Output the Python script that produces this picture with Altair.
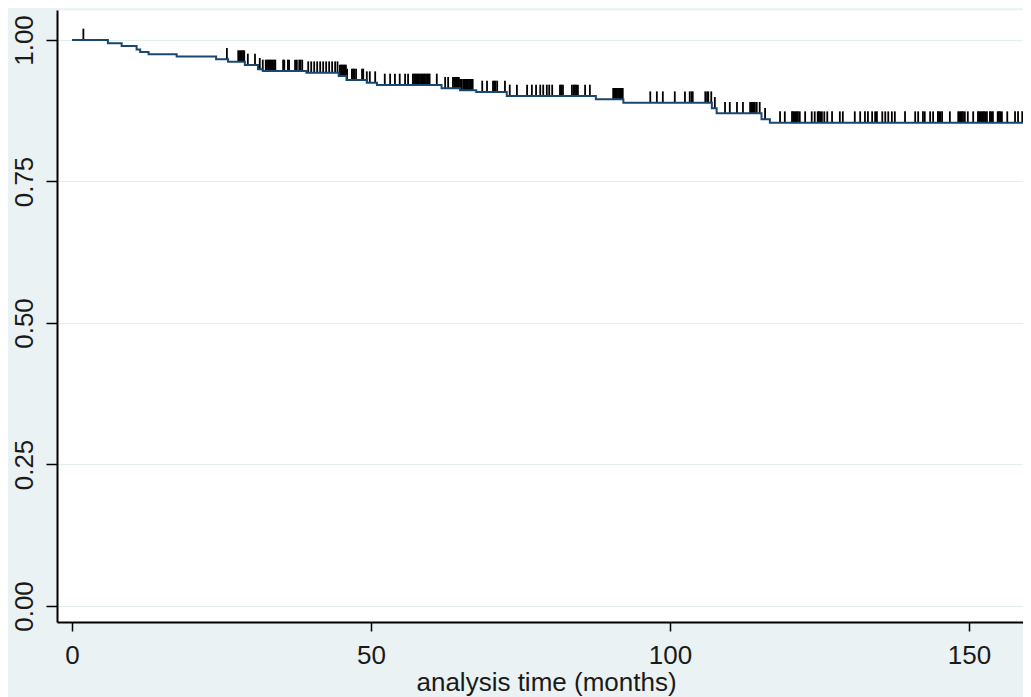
import bisect
import altair as alt
import pandas as pd

# Kaplan-Meier estimate: times (months) where the curve steps, survival after the step
step_time = [0, 6.0, 8.3, 10.8, 11.4, 12.8, 17.5, 24.1, 26.1, 28.9, 31.1, 31.9, 39.2,
             44.6, 45.9, 49.3, 51.0, 61.8, 64.9, 67.6, 72.7, 87.6, 92.2, 107.0, 107.8,
             115.3, 116.7, 159.0]
step_surv = [1.0, 0.9942, 0.9894, 0.9832, 0.9788, 0.9747, 0.9708, 0.9659, 0.9617,
             0.9558, 0.9482, 0.9452, 0.9422, 0.9364, 0.9293, 0.9246, 0.9205, 0.9147,
             0.9111, 0.9081, 0.9011, 0.8952, 0.8892, 0.8793, 0.8705, 0.8599, 0.8539,
             0.8539]

# Censoring times (months)
censor_time = [
    1.9, 25.9, 27.8, 28.0, 28.2, 28.4, 28.6, 28.8, 29.4, 30.6, 31.4, 31.9,
    32.4, 32.6, 32.8, 33.0, 33.2, 33.4, 33.6, 33.8, 34.0, 35.3, 35.5, 36.1, 36.3,
    37.3, 37.6, 38.0, 38.2, 38.5,
    39.5, 40.0, 40.5, 41.0, 41.5, 42.0, 42.5, 43.0, 43.5, 44.0, 44.4,
    44.8, 45.0, 45.2, 45.4, 45.6, 45.8, 46.0, 46.8, 47.0, 47.2, 47.5, 48.5, 48.7,
    49.3, 49.8, 50.7,
    52.3, 53.2, 54.0, 54.8, 55.7, 56.2,
    57.0, 57.2, 57.4, 57.6, 57.8, 58.0, 58.2, 58.4, 58.6, 58.8, 59.0, 59.2, 59.4,
    59.6, 59.8, 61.0, 62.4, 62.9,
    63.7, 63.9, 64.1, 64.3, 64.5, 64.7, 64.9, 65.1, 65.4, 65.6, 65.8, 66.0, 66.2,
    66.4, 66.6, 66.8, 67.0,
    68.6, 69.4, 70.4, 70.6, 70.8, 71.1,
    72.4, 73.2, 74.4, 76.1, 76.9, 77.6, 78.3, 78.8, 79.4, 79.8, 80.3, 81.6, 81.8,
    82.1, 83.6, 83.9, 84.1, 84.3, 84.6, 85.8, 86.6,
    90.5, 90.7, 90.9, 91.1, 91.3, 91.5, 91.7, 91.9, 92.1,
    96.7, 97.8, 98.8, 100.8, 102.5, 103.3, 103.6, 103.8,
    105.9, 106.2, 106.4, 106.9, 107.5,
    109.2, 110.0, 111.2, 112.2, 113.4, 113.6, 113.8, 114.0, 114.2, 114.5, 115.0,
    115.9,
    118.4, 119.2, 120.4, 120.6, 120.8, 121.0, 121.2, 121.4, 121.7, 122.6, 123.7,
    124.2, 124.7, 124.9, 125.1, 125.4, 125.8, 126.3, 127.1, 128.4, 128.9, 130.9,
    131.8, 132.6, 133.1, 133.8, 134.3, 134.6, 135.5, 136.0, 136.5, 137.1, 137.6,
    139.3, 141.0, 141.5, 142.3, 142.6, 143.5, 144.0, 144.8, 145.0, 145.2, 145.5,
    146.8, 148.2, 148.4, 148.6, 148.8, 149.0, 149.3, 149.8, 150.7, 151.5, 151.7,
    151.9, 152.1, 152.3, 152.5, 152.7, 153.0, 153.5, 153.7, 154.0, 154.8, 155.0,
    155.2, 155.5, 156.4, 157.7, 158.2, 158.9,
]

x_ticks = [0, 50, 100, 150]
y_ticks = [0, 0.25, 0.5, 0.75, 1.0]

curve = pd.DataFrame({"time": step_time, "surv": step_surv})
cens_surv = [step_surv[bisect.bisect_right(step_time, t) - 1] for t in censor_time]
cens = pd.DataFrame({"time": censor_time, "surv": cens_surv})

FONT = "Liberation Sans"
TXT = "#1a1a1a"
BG = "#EAF2F3"

x_scale = alt.Scale(domain=[-2.51, 159.03], nice=False, zero=False)
y_scale = alt.Scale(domain=[-0.0283, 1.053], nice=False, zero=False)

x_axis = alt.Axis(values=x_ticks, format="d", grid=False, domainColor="black",
                  domainWidth=2, tickColor="black", tickWidth=1.5, tickSize=9,
                  labelFont=FONT, labelFontSize=26, labelColor=TXT, labelPadding=11,
                  title="analysis time (months)", titleFont=FONT, titleFontSize=26,
                  titleFontWeight="normal", titleColor=TXT,
                  titleBaseline="alphabetic", titleY=68, titleX=489)
y_axis = alt.Axis(values=y_ticks, format=".2f", grid=True, gridColor="#E4EDEE",
                  gridWidth=1.2, domainColor="black", domainWidth=2, tickColor="black",
                  tickWidth=1.5, tickSize=11, labelFont=FONT, labelFontSize=26,
                  labelColor=TXT, labelAngle=270, labelAlign="center",
                  labelBaseline="bottom", labelPadding=9, title="")

line = alt.Chart(curve).mark_line(interpolate="step-after", color="#1A476F",
                                  strokeWidth=2, clip=True).encode(
    x=alt.X("time:Q", scale=x_scale, axis=x_axis),
    y=alt.Y("surv:Q", scale=y_scale, axis=y_axis),
)

ticks = alt.Chart(cens).transform_calculate(top="datum.surv + 0.02").mark_rule(
    color="black", strokeWidth=1.8, clip=True).encode(
    x=alt.X("time:Q", scale=x_scale),
    y=alt.Y("surv:Q", scale=y_scale),
    y2="top:Q",
)

chart = alt.layer(ticks, line).properties(
    width=966, height=612,
    autosize=alt.AutoSizeParams(type="none"),
    padding={"left": 49, "top": 2, "right": 0, "bottom": 75},
    background=BG,
).configure_view(fill="white", stroke="transparent")

chart.save("out.html", embed_options={"renderer": "svg", "actions": False})
